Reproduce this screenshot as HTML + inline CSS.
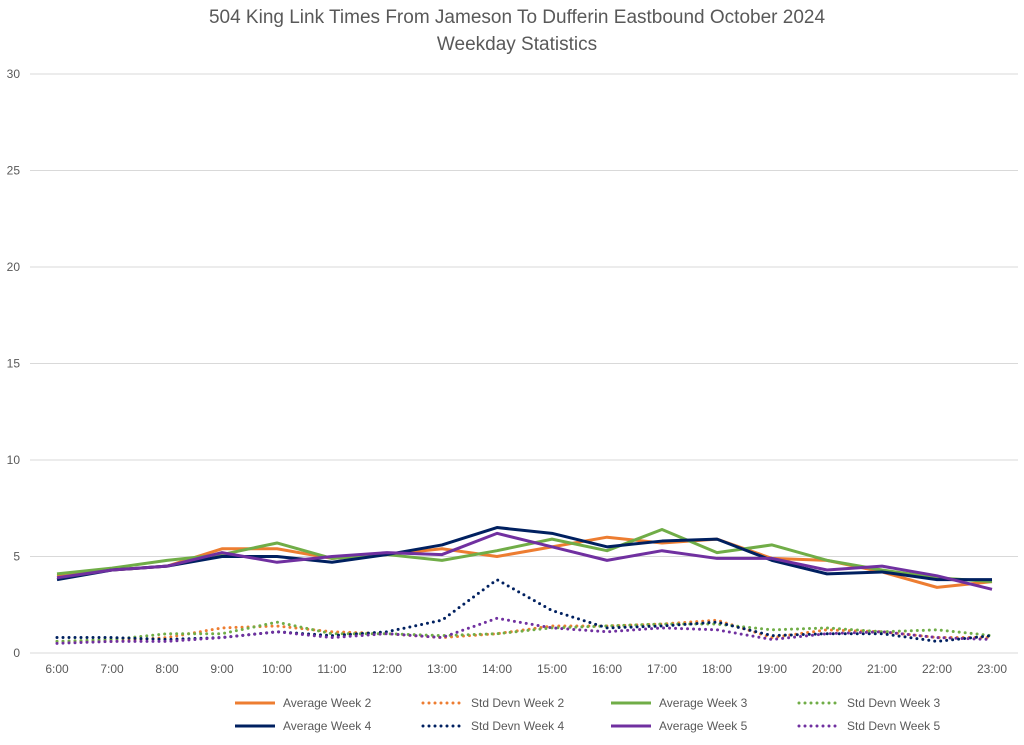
<!DOCTYPE html>
<html><head><meta charset="utf-8"><style>
body{margin:0;background:#fff;font-family:"Liberation Sans",sans-serif}
svg text{font-family:"Liberation Sans",sans-serif}
</style></head><body>
<svg id="chart" width="1024" height="740" xmlns="http://www.w3.org/2000/svg">
<text x="517" y="23" text-anchor="middle" font-size="19" fill="#595959">504 King Link Times From Jameson To Dufferin Eastbound October 2024</text>
<text x="517" y="50" text-anchor="middle" font-size="19" fill="#595959">Weekday Statistics</text>
<g id="grid"></g><g id="series"></g><g id="legend"></g>
</svg>
<script>
const categories=["6:00","7:00","8:00","9:00","10:00","11:00","12:00","13:00","14:00","15:00","16:00","17:00","18:00","19:00","20:00","21:00","22:00","23:00"];
const yTicks=[0,5,10,15,20,25,30];
const avgW2=[4.0,4.3,4.5,5.4,5.4,4.9,5.1,5.4,5.0,5.5,6.0,5.7,5.9,4.9,4.8,4.2,3.4,3.7];
const sdW2=[0.6,0.6,0.8,1.3,1.4,1.1,1.0,0.8,1.0,1.4,1.4,1.5,1.7,0.8,1.2,1.1,0.8,0.8];
const avgW3=[4.1,4.4,4.8,5.1,5.7,4.9,5.1,4.8,5.3,5.9,5.3,6.4,5.2,5.6,4.8,4.3,3.9,3.7];
const sdW3=[0.6,0.7,1.0,1.0,1.6,1.0,1.0,0.9,1.0,1.3,1.4,1.5,1.5,1.2,1.3,1.1,1.2,0.9];
const avgW4=[3.8,4.3,4.5,5.0,5.0,4.7,5.1,5.6,6.5,6.2,5.5,5.8,5.9,4.8,4.1,4.2,3.8,3.8];
const sdW4=[0.8,0.8,0.7,0.8,1.1,0.9,1.1,1.7,3.8,2.2,1.3,1.4,1.6,0.9,1.0,1.0,0.6,0.9];
const avgW5=[3.9,4.3,4.5,5.2,4.7,5.0,5.2,5.1,6.2,5.5,4.8,5.3,4.9,4.9,4.3,4.5,4.0,3.3];
const sdW5=[0.5,0.6,0.6,0.8,1.1,0.8,1.0,0.8,1.8,1.3,1.1,1.3,1.2,0.7,1.0,1.1,0.8,0.7];
const NS="http://www.w3.org/2000/svg";
const x=i=>57+i*55;
const y=v=>653-v*(579/30);
function mk(t,a,p){const e=document.createElementNS(NS,t);for(const k in a)e.setAttribute(k,a[k]);p.appendChild(e);return e;}
const grid=document.getElementById('grid');
yTicks.forEach(t=>{
 const l=mk('line',{x1:30,x2:1018,y1:y(t),y2:y(t),stroke:'#d9d9d9','stroke-width':1},grid);
 
 
 const tx=mk('text',{x:20,y:y(t)+4,'text-anchor':'end','font-size':12,fill:'#595959'},grid);
 tx.textContent=t;
 
 
});
categories.forEach((c,i)=>{
 const tx=mk('text',{x:x(i),y:673,'text-anchor':'middle','font-size':12,fill:'#595959'},grid);
 tx.textContent=c;
 
 
});
const series=[
 {n:'Average Week 2',d:avgW2,c:'#ed7d31',dot:false},
 {n:'Std Devn Week 2',d:sdW2,c:'#ed7d31',dot:true},
 {n:'Average Week 3',d:avgW3,c:'#70ad47',dot:false},
 {n:'Std Devn Week 3',d:sdW3,c:'#70ad47',dot:true},
 {n:'Average Week 4',d:avgW4,c:'#002060',dot:false},
 {n:'Std Devn Week 4',d:sdW4,c:'#002060',dot:true},
 {n:'Average Week 5',d:avgW5,c:'#7030a0',dot:false},
 {n:'Std Devn Week 5',d:sdW5,c:'#7030a0',dot:true}];
const sg=document.getElementById('series'),lg=document.getElementById('legend');
series.forEach((s,k)=>{
 const a={points:s.d.map((v,i)=>x(i)+','+y(v)).join(' '),fill:'none',stroke:s.c,'stroke-width':3,'stroke-linejoin':'round'};
 if(s.dot){a['stroke-dasharray']='0 6';a['stroke-linecap']='round';}
 const p=mk('polyline',a,sg);
 
 
 const col=k%4,row=Math.floor(k/4);
 const lx=235+col*188,ly=703+row*23;
 const g=mk('g',{},lg);
 
 
 const la={x1:lx,x2:lx+40,y1:ly,y2:ly,stroke:s.c,'stroke-width':3};
 if(s.dot){la['stroke-dasharray']='0 6';la['stroke-linecap']='round';}
 mk('line',la,g);
 const t=mk('text',{x:lx+48,y:ly+4,'font-size':12,fill:'#595959'},g);
 t.textContent=s.n;
});
</script>
</body></html>
